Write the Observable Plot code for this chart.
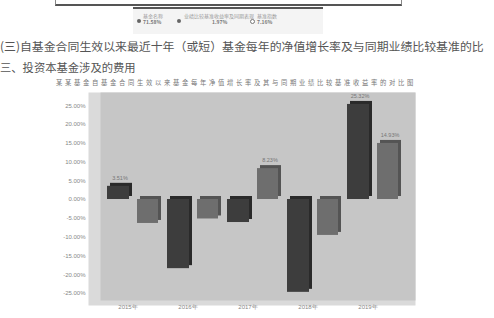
<!DOCTYPE html>
<html><head><meta charset="utf-8">
<script src="https://cdn.jsdelivr.net/npm/d3@7"></script>
<script src="https://cdn.jsdelivr.net/npm/@observablehq/plot@0.6"></script>
<style>
body{margin:0;background:#fff;font-family:"Noto Sans CJK SC","Noto Sans",sans-serif;width:494px;height:318px;overflow:hidden;position:relative}
.abs{position:absolute;white-space:nowrap}
.lg{position:absolute;font-size:5px;line-height:6px;color:#999}
.dot{position:absolute;width:4px;height:4px;border-radius:50%;background:#666}
</style></head><body>
<div class="abs" style="left:55px;top:-20px;width:345px;height:23px;border:1px solid #888;border-bottom:2px solid #555"></div>
<div class="abs" style="left:133px;top:7px;width:190px;height:25px;border-top:2px solid #555;background:#f4f4f4"></div>
<div class="dot" style="left:137px;top:19px"></div>
<div class="lg" style="left:143px;top:13px">基金名称<br><b style="color:#777">71.58%</b></div>
<div class="dot" style="left:177px;top:19px"></div>
<div class="lg" style="left:184px;top:13px">业绩比较基准收益率及同期表现<br><span style="margin-left:28px;color:#777"><b>1.97%</b></span></div>
<div class="dot" style="left:250px;top:19px;background:#fff;border:1px solid #777;width:3px;height:3px"></div>
<div class="lg" style="left:257px;top:13px">基准指数<br><b style="color:#777">7.16%</b></div>
<div class="abs" id="p1" style="left:0;top:37px;font-size:11.9px;color:#555">(三)自基金合同生效以来最近十年（或短）基金每年的净值增长率及与同期业绩比较基准的比</div>
<div class="abs" id="p2" style="left:0;top:59px;font-size:11.3px;color:#555">三、投资本基金涉及的费用</div>
<div class="abs" id="ct" style="left:56px;top:78px;font-size:6.3px;letter-spacing:2.7px;color:#777">某某基金自基金合同生效以来基金每年净值增长率及其与同期业绩比较基准收益率的对比图</div>
<div class="abs" id="chart" style="left:0;top:88px"></div>
<script>
const years = ["2015年", "2016年", "2017年", "2018年", "2019年"];
const seriesNames = ["基金净值增长率", "业绩比较基准收益率"];
const fundGrowth = [3.51, -18.42, -6.13, -24.73, 25.32];
const benchmark = [-6.38, -5.19, 8.23, -9.57, 14.93];
const yTicks = [-25, -20, -15, -10, -5, 0, 5, 10, 15, 20, 25];

const fundRows = years.map((y, i) => ({year: y, series: seriesNames[0], value: fundGrowth[i]}));
const benchRows = years.map((y, i) => ({year: y, series: seriesNames[1], value: benchmark[i]}));
const fmt = d => d.toFixed(2) + "%";

const chart = Plot.plot({
  width: 494,
  height: 230,
  marginLeft: 100,
  marginRight: 79,
  marginTop: 4,
  marginBottom: 18,
  style: {background: "transparent", fontFamily: "Liberation Sans, sans-serif", color: "#666"},
  x: {type: "band", domain: years, paddingInner: 0.15, paddingOuter: 0.2, align: 0.29, label: null},
  y: {domain: [-26.9, 28.5], label: null},
  marks: [
    Plot.frame({fill: "#dadada", stroke: null, insetLeft: -12, insetBottom: -5}),
    Plot.frame({fill: "#c6c6c6", stroke: null}),
    // depth faces (3D look)
    Plot.barY(fundRows, {x: "year", y: "value", fill: "#2a2a2a", insetRight: 29, dx: 3, dy: -3}),
    Plot.barY(benchRows, {x: "year", y: "value", fill: "#545454", insetLeft: 30, dx: 3, dy: -3}),
    // front faces
    Plot.barY(fundRows, {x: "year", y: "value", fill: "#3d3d3d", insetRight: 29}),
    Plot.barY(benchRows, {x: "year", y: "value", fill: "#6e6e6e", insetLeft: 30}),
    Plot.text(fundRows.filter(d => d.value > 0), {x: "year", y: "value", text: d => fmt(d.value), dx: -13, dy: -8, fontSize: 5.5, fill: "#777"}),
    Plot.text(benchRows.filter(d => d.value > 0), {x: "year", y: "value", text: d => fmt(d.value), dx: 17, dy: -8, fontSize: 5.5, fill: "#777"}),
    Plot.axisY(yTicks, {tickFormat: fmt, tickSize: 0, tickPadding: 15, fontSize: 6, fill: "#888", label: null}),
    Plot.axisX({tickSize: 0, tickPadding: 4, fontSize: 6, fill: "#888", dx: -5, label: null})
  ]
});
document.getElementById("chart").appendChild(chart);
</script>
</body></html>
